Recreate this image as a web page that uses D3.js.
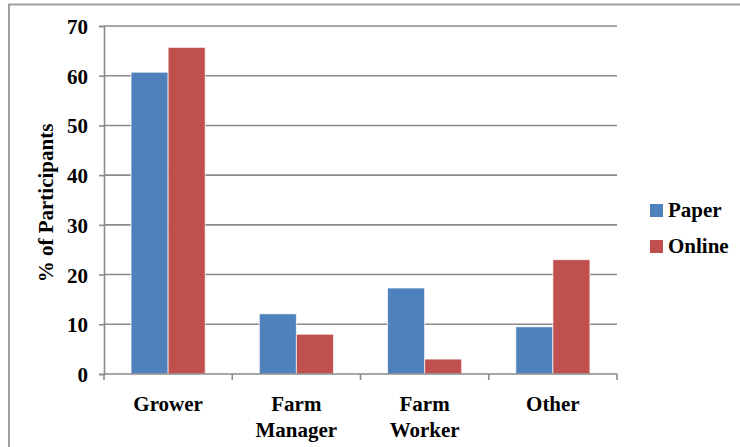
<!DOCTYPE html>
<html>
<head>
<meta charset="utf-8">
<script src="https://cdn.jsdelivr.net/npm/d3@7"></script>
<style>
  html, body { margin: 0; padding: 0; background: #fff; }
  svg { display: block; }
</style>
</head>
<body>
<svg id="chart" width="740" height="447"></svg>
<script>
// Participant roles by survey mode
const categories = [["Grower"], ["Farm", "Manager"], ["Farm", "Worker"], ["Other"]];
const seriesNames = ["Paper", "Online"];
const paperValues = [60.7, 12.1, 17.3, 9.5];
const onlineValues = [65.7, 8.0, 3.0, 23.0];
const yTicks = [0, 10, 20, 30, 40, 50, 60, 70];
const colors = ["#4F81BD", "#C0504D"];

const FONT = "'Liberation Serif', 'Times New Roman', 'DejaVu Serif', serif";
const svg = d3.select("#chart");
const W = 740, H = 447;
const plot = { left: 104, right: 617, top: 26, bottom: 374 };

function serif(sel, size) {
  return sel.style("font-family", FONT).style("font-weight", "bold")
    .style("font-size", size + "px").style("fill", "#000");
}

// outer chart frame (runs off the right and bottom edges)
svg.append("rect")
  .attr("x", 9).attr("y", 4.5)
  .attr("width", W + 20).attr("height", H + 20)
  .attr("fill", "none").attr("stroke", "#a0a0a0").attr("stroke-width", 2);

const keys = categories.map(c => c.join(" "));
const x = d3.scaleBand().domain(keys).range([plot.left, plot.right]).paddingInner(0).paddingOuter(0);
const inner = d3.scaleBand().domain(seriesNames).range([0, x.bandwidth()]).paddingInner(0).paddingOuter(0.73);
const y = d3.scaleLinear().domain([0, 70]).range([plot.bottom, plot.top]);

// horizontal gridlines
svg.append("g").selectAll("line").data(yTicks.filter(t => t > 0)).join("line")
  .attr("x1", plot.left).attr("x2", plot.right)
  .attr("y1", d => y(d)).attr("y2", d => y(d))
  .attr("stroke", "#8a8a8a").attr("stroke-width", 1.6);

// bars
const rows = keys.map((k, i) => ({ key: k, values: [paperValues[i], onlineValues[i]] }));
const groups = svg.append("g").selectAll("g").data(rows).join("g")
  .attr("transform", d => `translate(${x(d.key)},0)`);
groups.selectAll("rect").data(d => d.values.map((v, j) => ({ name: seriesNames[j], v, j }))).join("rect")
  .attr("x", d => inner(d.name))
  .attr("width", inner.bandwidth())
  .attr("y", d => y(d.v))
  .attr("height", d => y(0) - y(d.v))
  .attr("fill", d => colors[d.j])
  .attr("stroke", "rgba(255,255,255,0.7)").attr("stroke-width", 1);

// y axis
const yAxis = d3.axisLeft(y).tickValues(yTicks).tickSize(5).tickPadding(11).tickFormat(d3.format("d"));
const yg = svg.append("g").attr("transform", `translate(${plot.left},0)`).call(yAxis);
yg.select(".domain").attr("stroke", "#8a8a8a").attr("stroke-width", 1.6);
yg.selectAll(".tick line").attr("stroke", "#8a8a8a").attr("stroke-width", 1.6);
serif(yg.selectAll(".tick text"), 21).attr("dy", "0.36em");

// x axis baseline with category boundary ticks
svg.append("line")
  .attr("x1", plot.left).attr("x2", plot.right)
  .attr("y1", y(0)).attr("y2", y(0))
  .attr("stroke", "#8a8a8a").attr("stroke-width", 1.6);
const bounds = keys.map(k => x(k)).concat([plot.right]);
svg.append("g").selectAll("line").data(bounds).join("line")
  .attr("x1", d => d).attr("x2", d => d)
  .attr("y1", y(0)).attr("y2", y(0) + 6)
  .attr("stroke", "#8a8a8a").attr("stroke-width", 1.6);

// category labels (one or two lines)
const labels = serif(svg.append("g").selectAll("text").data(categories).join("text"), 21)
  .attr("text-anchor", "middle")
  .attr("x", (d, i) => x(keys[i]) + x.bandwidth() / 2)
  .attr("y", 411);
labels.selectAll("tspan").data(d => d).join("tspan")
  .attr("x", function () { return d3.select(this.parentNode).attr("x"); })
  .attr("dy", (d, i) => i === 0 ? 0 : 25.5)
  .text(d => d);

// y axis title
serif(svg.append("text"), 21)
  .attr("transform", `translate(53,${(plot.top + plot.bottom) / 2 + 3}) rotate(-90)`)
  .attr("text-anchor", "middle")
  .text("% of Participants");

// legend
const legend = svg.append("g").selectAll("g").data(seriesNames).join("g")
  .attr("transform", (d, i) => `translate(650,${204 + i * 36})`);
legend.append("rect").attr("width", 13).attr("height", 13).attr("fill", (d, i) => colors[i]);
serif(legend.append("text"), 21).attr("x", 18).attr("y", 13).text(d => d);
</script>
</body>
</html>
